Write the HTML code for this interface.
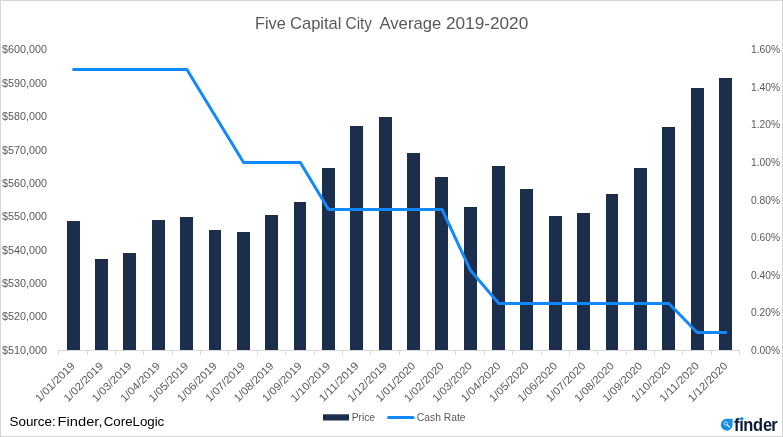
<!DOCTYPE html>
<html lang="en"><head><meta charset="utf-8"><title>Five Capital City Average 2019-2020</title>
<style>html,body{margin:0;padding:0;background:#ffffff;}body{width:783px;height:437px;overflow:hidden;font-family:"Liberation Sans",Arial,sans-serif;}svg text{white-space:pre;}</style>
</head><body>
<svg width="783" height="437" viewBox="0 0 783 437" style="display:block">
<rect x="0" y="0" width="783" height="437" fill="#ffffff"/>
<rect x="0" y="0" width="783" height="1" fill="#d6d6d6"/>
<rect x="0" y="0" width="1" height="437" fill="#d6d6d6"/>
<rect x="782" y="0" width="1" height="437" fill="#d6d6d6"/>
<rect x="0" y="435.9" width="783" height="1.1" fill="#d6d6d6"/>
<text y="28.9" font-family="Liberation Sans, Arial, sans-serif" font-size="16.6" fill="#595959"><tspan x="255.0" textLength="30.8" lengthAdjust="spacingAndGlyphs">Five</tspan> <tspan x="290.0" textLength="51.5" lengthAdjust="spacingAndGlyphs">Capital</tspan> <tspan x="345.6" textLength="26.4" lengthAdjust="spacingAndGlyphs">City</tspan> <tspan x="379.5" textLength="61.7" lengthAdjust="spacingAndGlyphs">Average</tspan> <tspan x="445.9" textLength="82.4" lengthAdjust="spacingAndGlyphs">2019-2020</tspan></text>
<g fill="#1b2f4c">
<rect x="67" y="221" width="13" height="129"/>
<rect x="95" y="259" width="13" height="91"/>
<rect x="123" y="253" width="13" height="97"/>
<rect x="152" y="220" width="13" height="130"/>
<rect x="180" y="217" width="13" height="133"/>
<rect x="209" y="230" width="12" height="120"/>
<rect x="237" y="232" width="13" height="118"/>
<rect x="265" y="215" width="13" height="135"/>
<rect x="294" y="202" width="12" height="148"/>
<rect x="322" y="168" width="13" height="182"/>
<rect x="350" y="126" width="13" height="224"/>
<rect x="379" y="117" width="13" height="233"/>
<rect x="407" y="153" width="13" height="197"/>
<rect x="435" y="177" width="13" height="173"/>
<rect x="464" y="207" width="13" height="143"/>
<rect x="492" y="166" width="13" height="184"/>
<rect x="520" y="189" width="13" height="161"/>
<rect x="549" y="216" width="13" height="134"/>
<rect x="577" y="213" width="13" height="137"/>
<rect x="606" y="194" width="12" height="156"/>
<rect x="634" y="168" width="13" height="182"/>
<rect x="662" y="127" width="13" height="223"/>
<rect x="691" y="88" width="13" height="262"/>
<rect x="719" y="78" width="13" height="272"/>
</g>
<g fill="#d9d9d9">
<rect x="58" y="350" width="682" height="1"/>
<rect x="58" y="350" width="1" height="5"/>
<rect x="87" y="350" width="1" height="5"/>
<rect x="115" y="350" width="1" height="5"/>
<rect x="143" y="350" width="1" height="5"/>
<rect x="172" y="350" width="1" height="5"/>
<rect x="200" y="350" width="1" height="5"/>
<rect x="228" y="350" width="1" height="5"/>
<rect x="257" y="350" width="1" height="5"/>
<rect x="285" y="350" width="1" height="5"/>
<rect x="314" y="350" width="1" height="5"/>
<rect x="342" y="350" width="1" height="5"/>
<rect x="370" y="350" width="1" height="5"/>
<rect x="399" y="350" width="1" height="5"/>
<rect x="427" y="350" width="1" height="5"/>
<rect x="455" y="350" width="1" height="5"/>
<rect x="484" y="350" width="1" height="5"/>
<rect x="512" y="350" width="1" height="5"/>
<rect x="541" y="350" width="1" height="5"/>
<rect x="569" y="350" width="1" height="5"/>
<rect x="597" y="350" width="1" height="5"/>
<rect x="626" y="350" width="1" height="5"/>
<rect x="654" y="350" width="1" height="5"/>
<rect x="682" y="350" width="1" height="5"/>
<rect x="711" y="350" width="1" height="5"/>
<rect x="739" y="350" width="1" height="5"/>
</g>
<polyline points="73.5,69.5 101.8,69.5 130.2,69.5 158.6,69.5 186.9,69.5 215.2,116 243.6,162.5 272.0,162.5 300.3,162.5 328.6,209.5 357.0,209.5 385.4,209.5 413.7,209.5 442.1,209.5 470.4,270.3 498.8,303.5 527.1,303.5 555.5,303.5 583.8,303.5 612.1,303.5 640.5,303.5 668.9,303.5 697.2,332.5 725.6,332.5" fill="none" stroke="#1288fa" stroke-width="3" stroke-linecap="round" stroke-linejoin="round"/>
<g font-family="Liberation Sans, Arial, sans-serif" font-size="10.8" fill="#595959">
<text x="47" y="52.7" text-anchor="end" textLength="45" lengthAdjust="spacingAndGlyphs">$600,000</text>
<text x="47" y="86.8" text-anchor="end" textLength="45" lengthAdjust="spacingAndGlyphs">$590,000</text>
<text x="47" y="119.6" text-anchor="end" textLength="45" lengthAdjust="spacingAndGlyphs">$580,000</text>
<text x="47" y="153.7" text-anchor="end" textLength="45" lengthAdjust="spacingAndGlyphs">$570,000</text>
<text x="47" y="186.8" text-anchor="end" textLength="45" lengthAdjust="spacingAndGlyphs">$560,000</text>
<text x="47" y="219.8" text-anchor="end" textLength="45" lengthAdjust="spacingAndGlyphs">$550,000</text>
<text x="47" y="253.7" text-anchor="end" textLength="45" lengthAdjust="spacingAndGlyphs">$540,000</text>
<text x="47" y="286.8" text-anchor="end" textLength="45" lengthAdjust="spacingAndGlyphs">$530,000</text>
<text x="47" y="320.4" text-anchor="end" textLength="45" lengthAdjust="spacingAndGlyphs">$520,000</text>
<text x="47" y="353.6" text-anchor="end" textLength="45" lengthAdjust="spacingAndGlyphs">$510,000</text>
<text x="751" y="52.8" textLength="29" lengthAdjust="spacingAndGlyphs">1.60%</text>
<text x="751" y="90.9" textLength="29" lengthAdjust="spacingAndGlyphs">1.40%</text>
<text x="751" y="128.0" textLength="29" lengthAdjust="spacingAndGlyphs">1.20%</text>
<text x="751" y="165.7" textLength="29" lengthAdjust="spacingAndGlyphs">1.00%</text>
<text x="751" y="203.6" textLength="29" lengthAdjust="spacingAndGlyphs">0.80%</text>
<text x="751" y="240.8" textLength="29" lengthAdjust="spacingAndGlyphs">0.60%</text>
<text x="751" y="278.6" textLength="29" lengthAdjust="spacingAndGlyphs">0.40%</text>
<text x="751" y="315.8" textLength="29" lengthAdjust="spacingAndGlyphs">0.20%</text>
<text x="751" y="353.6" textLength="29" lengthAdjust="spacingAndGlyphs">0.00%</text>
<text transform="translate(75.6,366.5) rotate(-45)" text-anchor="end" textLength="51" lengthAdjust="spacingAndGlyphs">1/01/2019</text>
<text transform="translate(104.0,366.5) rotate(-45)" text-anchor="end" textLength="51" lengthAdjust="spacingAndGlyphs">1/02/2019</text>
<text transform="translate(132.3,366.5) rotate(-45)" text-anchor="end" textLength="51" lengthAdjust="spacingAndGlyphs">1/03/2019</text>
<text transform="translate(160.7,366.5) rotate(-45)" text-anchor="end" textLength="51" lengthAdjust="spacingAndGlyphs">1/04/2019</text>
<text transform="translate(189.1,366.5) rotate(-45)" text-anchor="end" textLength="51" lengthAdjust="spacingAndGlyphs">1/05/2019</text>
<text transform="translate(217.5,366.5) rotate(-45)" text-anchor="end" textLength="51" lengthAdjust="spacingAndGlyphs">1/06/2019</text>
<text transform="translate(245.8,366.5) rotate(-45)" text-anchor="end" textLength="51" lengthAdjust="spacingAndGlyphs">1/07/2019</text>
<text transform="translate(274.2,366.5) rotate(-45)" text-anchor="end" textLength="51" lengthAdjust="spacingAndGlyphs">1/08/2019</text>
<text transform="translate(302.6,366.5) rotate(-45)" text-anchor="end" textLength="51" lengthAdjust="spacingAndGlyphs">1/09/2019</text>
<text transform="translate(331.0,366.5) rotate(-45)" text-anchor="end" textLength="51" lengthAdjust="spacingAndGlyphs">1/10/2019</text>
<text transform="translate(359.3,366.5) rotate(-45)" text-anchor="end" textLength="51" lengthAdjust="spacingAndGlyphs">1/11/2019</text>
<text transform="translate(387.7,366.5) rotate(-45)" text-anchor="end" textLength="51" lengthAdjust="spacingAndGlyphs">1/12/2019</text>
<text transform="translate(416.1,366.5) rotate(-45)" text-anchor="end" textLength="51" lengthAdjust="spacingAndGlyphs">1/01/2020</text>
<text transform="translate(444.5,366.5) rotate(-45)" text-anchor="end" textLength="51" lengthAdjust="spacingAndGlyphs">1/02/2020</text>
<text transform="translate(472.8,366.5) rotate(-45)" text-anchor="end" textLength="51" lengthAdjust="spacingAndGlyphs">1/03/2020</text>
<text transform="translate(501.2,366.5) rotate(-45)" text-anchor="end" textLength="51" lengthAdjust="spacingAndGlyphs">1/04/2020</text>
<text transform="translate(529.6,366.5) rotate(-45)" text-anchor="end" textLength="51" lengthAdjust="spacingAndGlyphs">1/05/2020</text>
<text transform="translate(558.0,366.5) rotate(-45)" text-anchor="end" textLength="51" lengthAdjust="spacingAndGlyphs">1/06/2020</text>
<text transform="translate(586.3,366.5) rotate(-45)" text-anchor="end" textLength="51" lengthAdjust="spacingAndGlyphs">1/07/2020</text>
<text transform="translate(614.7,366.5) rotate(-45)" text-anchor="end" textLength="51" lengthAdjust="spacingAndGlyphs">1/08/2020</text>
<text transform="translate(643.1,366.5) rotate(-45)" text-anchor="end" textLength="51" lengthAdjust="spacingAndGlyphs">1/09/2020</text>
<text transform="translate(671.5,366.5) rotate(-45)" text-anchor="end" textLength="51" lengthAdjust="spacingAndGlyphs">1/10/2020</text>
<text transform="translate(699.8,366.5) rotate(-45)" text-anchor="end" textLength="51" lengthAdjust="spacingAndGlyphs">1/11/2020</text>
<text transform="translate(728.2,366.5) rotate(-45)" text-anchor="end" textLength="51" lengthAdjust="spacingAndGlyphs">1/12/2020</text>
<text x="351.7" y="420.9" textLength="23.4" lengthAdjust="spacingAndGlyphs">Price</text>
<text x="416.8" y="420.9" textLength="48.7" lengthAdjust="spacingAndGlyphs">Cash Rate</text>
</g>
<rect x="323" y="414.3" width="26" height="6.2" fill="#1b2f4c"/>
<line x1="388.6" y1="417.4" x2="413.1" y2="417.4" stroke="#1288fa" stroke-width="3" stroke-linecap="round"/>
<text y="425.6" font-family="Liberation Sans, Arial, sans-serif" font-size="13" fill="#000000"><tspan x="9.5" textLength="46.2" lengthAdjust="spacingAndGlyphs">Source:</tspan> <tspan x="57.6" textLength="44.9" lengthAdjust="spacingAndGlyphs">Finder,</tspan> <tspan x="103.75" textLength="60.5" lengthAdjust="spacingAndGlyphs">CoreLogic</tspan></text>
<path d="M726.7 418.7 H732.6 V424.9 A5.9 6 0 1 1 726.7 418.7 Z" fill="#1690e2"/>
<circle cx="725.8" cy="423.5" r="1.7" fill="none" stroke="#ffffff" stroke-opacity="0.85" stroke-width="0.8"/>
<line x1="727.2" y1="424.9" x2="729.5" y2="427.2" stroke="#ffffff" stroke-width="1.2" stroke-linecap="round"/>
<text transform="translate(733.9,431.1) scale(0.914,1)" x="0 5.9 10.17 20.78 31.73 41.0" y="0" font-family="Liberation Sans, Arial, sans-serif" font-weight="bold" font-size="18" fill="#0d1a3a">finder</text>
<circle cx="741.75" cy="418.75" r="1.75" fill="#1690e2"/>
</svg>
</body></html>
